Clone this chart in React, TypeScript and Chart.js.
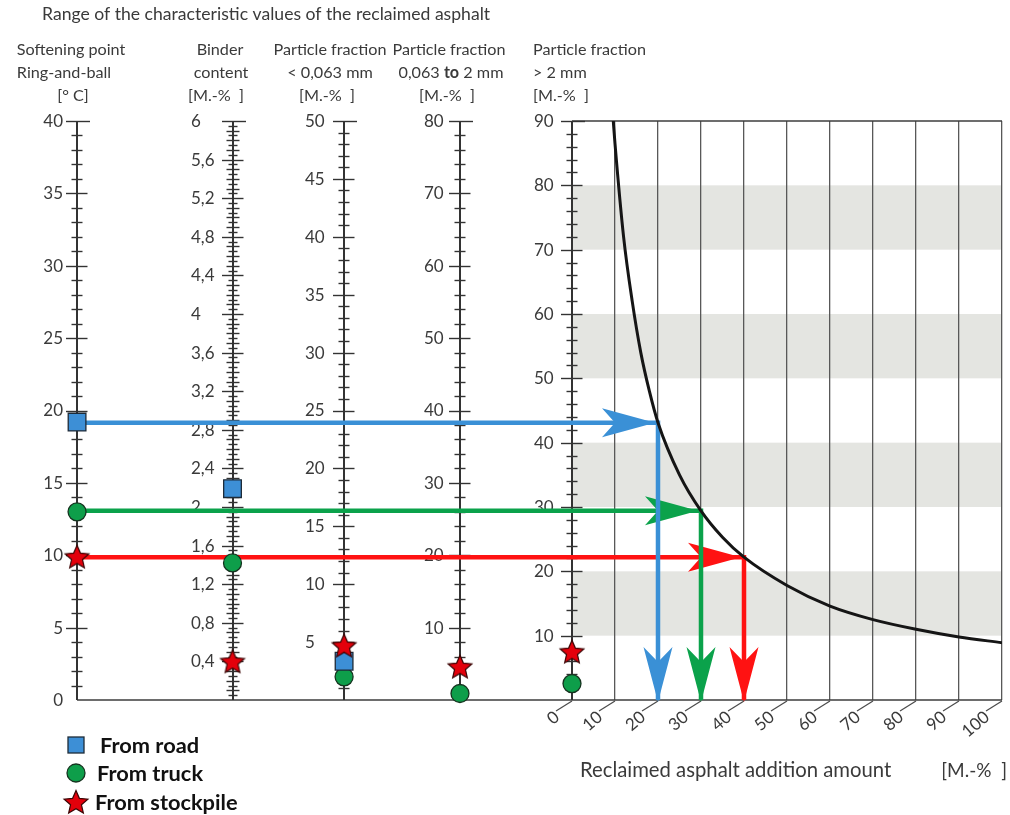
import React, { useEffect, useRef } from 'react';
import { Chart, registerables } from 'chart.js';

Chart.register(...registerables);

// ---------------- data ----------------
const ADDITION_TICKS = [0, 10, 20, 30, 40, 50, 60, 70, 80, 90, 100];
const CURVE_ADDITION = [9.6, 10, 12, 14, 16, 18, 20, 25, 30, 35, 40, 50, 60, 70, 80, 90, 100];
const CURVE_COARSE = [90, 86.5, 72, 62, 54, 48, 43.1, 35, 29.4, 25.3, 22.2, 17.8, 14.6, 12.5, 11, 9.8, 8.9];
const BAND_FROM = [10, 30, 50, 70];
const BAND_TO = [20, 40, 60, 80];

const SERIES_NAMES = ['From road', 'From truck', 'From stockpile'];
// values per axis: softening point, binder content, <0.063, 0.063-2, >2 mm
const ROAD = [19.2, 2.19, 3.35, null, null];
const TRUCK = [13.0, 1.42, 2.0, 0.9, 2.55];
const STOCKPILE = [9.9, 0.4, 4.7, 4.6, 7.5];

const ARROW_LEVEL = [43.1, 29.4, 22.2]; // on the > 2 mm scale
const ARROW_ADDITION = [20, 30, 40];

const AXIS_MAX = [40, 6, 50, 80, 90];
const AXIS_LABEL_STEP = [5, 0.4, 5, 10, 10];
const AXIS_LABEL_FIRST = [0, 0.4, 5, 10, 10];
const AXIS_MINOR_STEP = [1, 0.05, 1, 2, 2];
const AXIS_MID_STEP = [0, 0.1, 0, 0, 0];

const TITLE = 'Range of the characteristic values of the reclaimed asphalt';
const HEADERS = [
  ['Softening point', 'Ring-and-ball', '[° C]'],
  ['Binder', 'content', '[M.-%  ]'],
  ['Particle fraction', '< 0,063 mm', '[M.-%  ]'],
  ['Particle fraction', '0,063 to 2 mm', '[M.-%  ]'],
  ['Particle fraction', '> 2 mm', '[M.-%  ]'],
];
const X_TITLE = 'Reclaimed asphalt addition amount';
const X_UNIT = '[M.-%  ]';

// ---------------- layout / style ----------------
const W = 1010;
const H = 815;
const X_MIN = -133.02;
const AXIS_IDS = ['ySoft', 'yBinder', 'yFine', 'yMid', 'y'];
const AXIS_AT = [-115.1, -78.95, -53.0, -26.05, 0];
const LABEL_DX = [-14, -42, -39, -36, -38];
const LABEL_ALIGN: CanvasTextAlign[] = ['right', 'left', 'left', 'left', 'left'];
const HEADER_X = [
  [71, 64, 73],
  [220, 221, 216],
  [330, 330, 327],
  [449, 451, 447],
  [533, 533, 533],
];
const HEADER_ALIGN: CanvasTextAlign[] = ['center', 'center', 'center', 'center', 'left'];
const HEADER_BASE = [55, 78, 101];

const FONT = "Lato, 'Open Sans', sans-serif";
const TEXT = '#3a3a3a';
const AXIS_COLOR = '#333333';
const BAND_COLOR = '#e4e5e1';
const LINE_BLUE = '#3a90d6';
const LINE_GREEN = '#0ba24b';
const LINE_RED = '#ff1212';
const ARROW_COLORS = [LINE_BLUE, LINE_GREEN, LINE_RED];
const MARK_FILL = ['#3d8fd6', '#0e9e4a', '#e3000b'];
const MARK_EDGE = ['#1e2b38', '#15331f', '#3a0505'];

function makeStar(size: number, fill: string, stroke: string): HTMLCanvasElement {
  const c = document.createElement('canvas');
  c.width = size;
  c.height = size;
  const g = c.getContext('2d')!;
  const cx = size / 2;
  const cy = size / 2 + 1;
  const R = size / 2 - 1.5;
  const r = R * 0.46;
  g.beginPath();
  for (let i = 0; i < 10; i++) {
    const ang = -Math.PI / 2 + (i * Math.PI) / 5;
    const rad = i % 2 === 0 ? R : r;
    const px = cx + rad * Math.cos(ang);
    const py = cy + rad * Math.sin(ang);
    if (i === 0) g.moveTo(px, py);
    else g.lineTo(px, py);
  }
  g.closePath();
  g.fillStyle = fill;
  g.fill();
  g.lineWidth = 1.2;
  g.strokeStyle = stroke;
  g.stroke();
  return c;
}

function fmt(v: number): string {
  const r = Math.round(v * 100) / 100;
  return String(r).replace('.', ',');
}

function seg(ctx: CanvasRenderingContext2D, x1: number, y1: number, x2: number, y2: number) {
  ctx.beginPath();
  ctx.moveTo(x1, y1);
  ctx.lineTo(x2, y2);
  ctx.stroke();
}

function arrowHead(
  ctx: CanvasRenderingContext2D,
  tx: number,
  ty: number,
  dx: number,
  dy: number,
  len: number,
  notch: number,
  half: number,
  color: string
) {
  const px = -dy;
  const py = dx;
  ctx.beginPath();
  ctx.moveTo(tx, ty);
  ctx.lineTo(tx - dx * len + px * half, ty - dy * len + py * half);
  ctx.lineTo(tx - dx * notch, ty - dy * notch);
  ctx.lineTo(tx - dx * len - px * half, ty - dy * len - py * half);
  ctx.closePath();
  ctx.fillStyle = color;
  ctx.fill();
}

let STAR_IMG: HTMLCanvasElement | null = null;

const nomogram: any = {
  id: 'nomogram',
  beforeDraw(chart: any) {
    const { ctx, scales } = chart;
    const xs = scales.x;
    const ys = scales.y;
    ctx.save();
    ctx.fillStyle = BAND_COLOR;
    const l = xs.getPixelForValue(0);
    const r = xs.getPixelForValue(100);
    for (let i = 0; i < BAND_FROM.length; i++) {
      const t = ys.getPixelForValue(BAND_TO[i]);
      const b = ys.getPixelForValue(BAND_FROM[i]);
      ctx.fillRect(l, t, r - l, b - t);
    }
    ctx.restore();
  },
  beforeDatasetsDraw(chart: any) {
    const { ctx, chartArea: a, scales } = chart;
    const xs = scales.x;
    ctx.save();
    ctx.lineCap = 'butt';
    // slanted x ticks
    ctx.strokeStyle = '#4a4a4a';
    ctx.lineWidth = 1.2;
    for (const v of ADDITION_TICKS) {
      const px = xs.getPixelForValue(v);
      seg(ctx, px, a.bottom + 1, px - 16, a.bottom + 11);
    }
    // baseline and top line
    ctx.strokeStyle = '#3c3c3c';
    ctx.lineWidth = 1.5;
    seg(ctx, xs.getPixelForValue(AXIS_AT[0]), a.bottom, xs.getPixelForValue(100), a.bottom);
    seg(ctx, xs.getPixelForValue(0), a.top, xs.getPixelForValue(100), a.top);

    // vertical scales
    for (let k = 0; k < AXIS_IDS.length; k++) {
      const s = scales[AXIS_IDS[k]];
      const ax = Math.round(xs.getPixelForValue(AXIS_AT[k]));
      const yTop = s.getPixelForValue(AXIS_MAX[k]);
      const yBot = s.getPixelForValue(0);
      ctx.strokeStyle = AXIS_COLOR;
      ctx.lineWidth = 2;
      seg(ctx, ax, yTop, ax, yBot);
      ctx.lineWidth = 1.4;
      const n = Math.round(AXIS_MAX[k] / AXIS_MINOR_STEP[k]);
      for (let i = 1; i <= n; i++) {
        const v = i * AXIS_MINOR_STEP[k];
        const y = Math.round(s.getPixelForValue(v)) + 0.5;
        const q = v / AXIS_LABEL_STEP[k];
        const isMajor = Math.abs(q - Math.round(q)) < 1e-6;
        let isMid = false;
        if (AXIS_MID_STEP[k] > 0) {
          const qm = v / AXIS_MID_STEP[k];
          isMid = Math.abs(qm - Math.round(qm)) < 1e-6;
        }
        let left = 5.5;
        let right = 5.5;
        if (AXIS_MID_STEP[k] > 0 && !isMid) {
          left = 4.5;
          right = 4.5;
        }
        if (isMid) {
          left = 6.5;
          right = 6.5;
        }
        if (isMajor) {
          left = 11;
          right = 10.5;
        }
        if (i === n) {
          left = 11;
          right = 13;
        }
        seg(ctx, ax - left, y, ax + right, y);
      }
      // labels
      ctx.fillStyle = TEXT;
      ctx.font = `17px ${FONT}`;
      ctx.textAlign = LABEL_ALIGN[k];
      ctx.textBaseline = 'middle';
      const nl = Math.round((AXIS_MAX[k] - AXIS_LABEL_FIRST[k]) / AXIS_LABEL_STEP[k]);
      for (let i = 0; i <= nl; i++) {
        const v = AXIS_LABEL_FIRST[k] + i * AXIS_LABEL_STEP[k];
        ctx.fillText(fmt(v), ax + LABEL_DX[k], s.getPixelForValue(v) + 0.5);
      }
    }

    // texts
    ctx.fillStyle = TEXT;
    ctx.textBaseline = 'alphabetic';
    ctx.textAlign = 'left';
    ctx.font = `17.6px ${FONT}`;
    ctx.fillText(TITLE, 42, 20);
    const hf = 16.2;
    for (let c = 0; c < HEADERS.length; c++) {
      for (let r = 0; r < HEADERS[c].length; r++) {
        const t = HEADERS[c][r];
        const x = HEADER_X[c][r];
        const y = HEADER_BASE[r];
        ctx.font = `${hf}px ${FONT}`;
        if (t.indexOf(' to ') >= 0) {
          const parts = t.split(' to ');
          const p1 = parts[0] + ' ';
          const p3 = ' ' + parts[1];
          const w1 = ctx.measureText(p1).width;
          const w3 = ctx.measureText(p3).width;
          ctx.font = `bold ${hf}px ${FONT}`;
          const w2 = ctx.measureText('to').width;
          const total = w1 + w2 + w3;
          const sx = HEADER_ALIGN[c] === 'center' ? x - total / 2 : x;
          ctx.textAlign = 'left';
          ctx.font = `${hf}px ${FONT}`;
          ctx.fillText(p1, sx, y);
          ctx.font = `bold ${hf}px ${FONT}`;
          ctx.fillText('to', sx + w1, y);
          ctx.font = `${hf}px ${FONT}`;
          ctx.fillText(p3, sx + w1 + w2, y);
        } else {
          ctx.textAlign = HEADER_ALIGN[c];
          ctx.fillText(t, x, y);
        }
      }
    }
    ctx.textAlign = 'left';
    ctx.font = `20.3px ${FONT}`;
    ctx.fillText(X_TITLE, 580, 777);
    ctx.textAlign = 'right';
    ctx.font = `19px ${FONT}`;
    ctx.fillText(X_UNIT, 1007, 777);
    ctx.restore();
  },
  afterDatasetDraw(chart: any, args: any) {
    const ds = chart.data.datasets[args.index];
    if (!ds || !ds.arrowColor) return;
    const pts = args.meta.data;
    if (!pts || pts.length < 3) return;
    const ctx = chart.ctx;
    ctx.save();
    const p0 = pts[0];
    const p1 = pts[1];
    const p2 = pts[2];
    let dx = p1.x - p0.x;
    let dy = p1.y - p0.y;
    let d = Math.hypot(dx, dy) || 1;
    arrowHead(ctx, p1.x - 3, p1.y, dx / d, dy / d, 53, 40, 14.5, ds.arrowColor);
    dx = p2.x - p1.x;
    dy = p2.y - p1.y;
    d = Math.hypot(dx, dy) || 1;
    arrowHead(ctx, p2.x, p2.y + 2, dx / d, dy / d, 55, 40, 14.5, ds.arrowColor);
    ctx.restore();
  },
  afterDraw(chart: any) {
    const ctx = chart.ctx;
    ctx.save();
    const markX = 76;
    const ys = [745, 773, 802];
    const textX = [100, 97, 95];
    const base = [753, 781, 810];
    // square
    ctx.fillStyle = MARK_FILL[0];
    ctx.strokeStyle = MARK_EDGE[0];
    ctx.lineWidth = 1.3;
    ctx.fillRect(markX - 8, ys[0] - 8, 16, 16);
    ctx.strokeRect(markX - 8, ys[0] - 8, 16, 16);
    // circle
    ctx.beginPath();
    ctx.arc(markX, ys[1], 9, 0, Math.PI * 2);
    ctx.fillStyle = MARK_FILL[1];
    ctx.fill();
    ctx.strokeStyle = MARK_EDGE[1];
    ctx.stroke();
    // star
    if (STAR_IMG) ctx.drawImage(STAR_IMG, markX - STAR_IMG.width / 2, ys[2] - STAR_IMG.height / 2);
    ctx.fillStyle = '#111111';
    ctx.font = `bold 21.8px ${FONT}`;
    ctx.textAlign = 'left';
    ctx.textBaseline = 'alphabetic';
    for (let i = 0; i < SERIES_NAMES.length; i++) {
      ctx.fillText(SERIES_NAMES[i], textX[i], base[i]);
    }
    ctx.restore();
  },
};

export default function App() {
  const ref = useRef<HTMLCanvasElement>(null);
  useEffect(() => {
    document.body.style.margin = '0';
    const canvas = ref.current;
    if (!canvas) return;
    STAR_IMG = makeStar(28, MARK_FILL[2], MARK_EDGE[2]);

    const datasets: any[] = [];
    // curve
    datasets.push({
      type: 'line',
      label: 'curve',
      data: CURVE_ADDITION.map((x, i) => ({ x, y: CURVE_COARSE[i] })),
      yAxisID: 'y',
      borderColor: '#151515',
      borderWidth: 3,
      pointRadius: 0,
      cubicInterpolationMode: 'monotone',
      fill: false,
      order: 3,
    });
    // arrows
    for (let i = 0; i < ARROW_LEVEL.length; i++) {
      datasets.push({
        type: 'line',
        label: 'arrow' + i,
        data: [
          { x: AXIS_AT[0], y: ARROW_LEVEL[i] },
          { x: ARROW_ADDITION[i], y: ARROW_LEVEL[i] },
          { x: ARROW_ADDITION[i], y: 0 },
        ],
        yAxisID: 'y',
        borderColor: ARROW_COLORS[i],
        borderWidth: 4.5,
        borderCapStyle: 'butt',
        borderJoinStyle: 'miter',
        pointRadius: 0,
        tension: 0,
        fill: false,
        clip: false,
        arrowColor: ARROW_COLORS[i],
        order: 4,
      });
    }
    // markers
    const SERIES_VALUES = [ROAD, TRUCK, STOCKPILE];
    const SERIES_ORDER = [1, 2, 0];
    for (let si = 0; si < SERIES_VALUES.length; si++) {
      const vals = SERIES_VALUES[si];
      for (let k = 0; k < vals.length; k++) {
        const v = vals[k];
        if (v === null || v === undefined) continue;
        datasets.push({
          type: 'scatter',
          label: SERIES_NAMES[si],
          data: [{ x: AXIS_AT[k], y: v }],
          yAxisID: AXIS_IDS[k],
          pointStyle: si === 0 ? 'rect' : si === 1 ? 'circle' : STAR_IMG,
          pointRadius: si === 0 ? 12.5 : si === 1 ? 9 : 13,
          backgroundColor: MARK_FILL[si],
          borderColor: MARK_EDGE[si],
          borderWidth: 1.3,
          clip: false,
          order: SERIES_ORDER[si],
        });
      }
    }

    const hiddenY = (max: number) => ({ type: 'linear', min: 0, max, display: false });

    const chart = new Chart(canvas, {
      type: 'scatter',
      data: { datasets },
      options: {
        animation: false,
        responsive: false,
        devicePixelRatio: 1,
        events: [],
        layout: { autoPadding: false, padding: { left: 0, right: W - 1002, top: 121, bottom: H - 700 } },
        plugins: { legend: { display: false }, tooltip: { enabled: false }, title: { display: false } },
        scales: {
          x: {
            type: 'linear',
            min: X_MIN,
            max: 100,
            position: { y: 0 },
            afterBuildTicks: (s: any) => {
              s.ticks = ADDITION_TICKS.map((v) => ({ value: v }));
            },
            afterFit: (s: any) => {
              s.paddingLeft = 0;
              s.paddingRight = 0;
              s.paddingTop = 0;
              s.paddingBottom = 0;
            },
            grid: { color: '#585858', lineWidth: 1.3, drawTicks: false },
            border: { display: false },
            ticks: {
              autoSkip: false,
              minRotation: 40,
              maxRotation: 40,
              labelOffset: -15,
              padding: 7,
              color: TEXT,
              font: { family: FONT, size: 17 },
            },
          },
          y: hiddenY(AXIS_MAX[4]),
          ySoft: hiddenY(AXIS_MAX[0]),
          yBinder: hiddenY(AXIS_MAX[1]),
          yFine: hiddenY(AXIS_MAX[2]),
          yMid: hiddenY(AXIS_MAX[3]),
        },
      } as any,
      plugins: [nomogram],
    } as any);
    return () => chart.destroy();
  }, []);
  return (
    <div style={{ width: W, height: H }}>
      <canvas ref={ref} width={W} height={H} style={{ display: 'block', width: W, height: H }} />
    </div>
  );
}
